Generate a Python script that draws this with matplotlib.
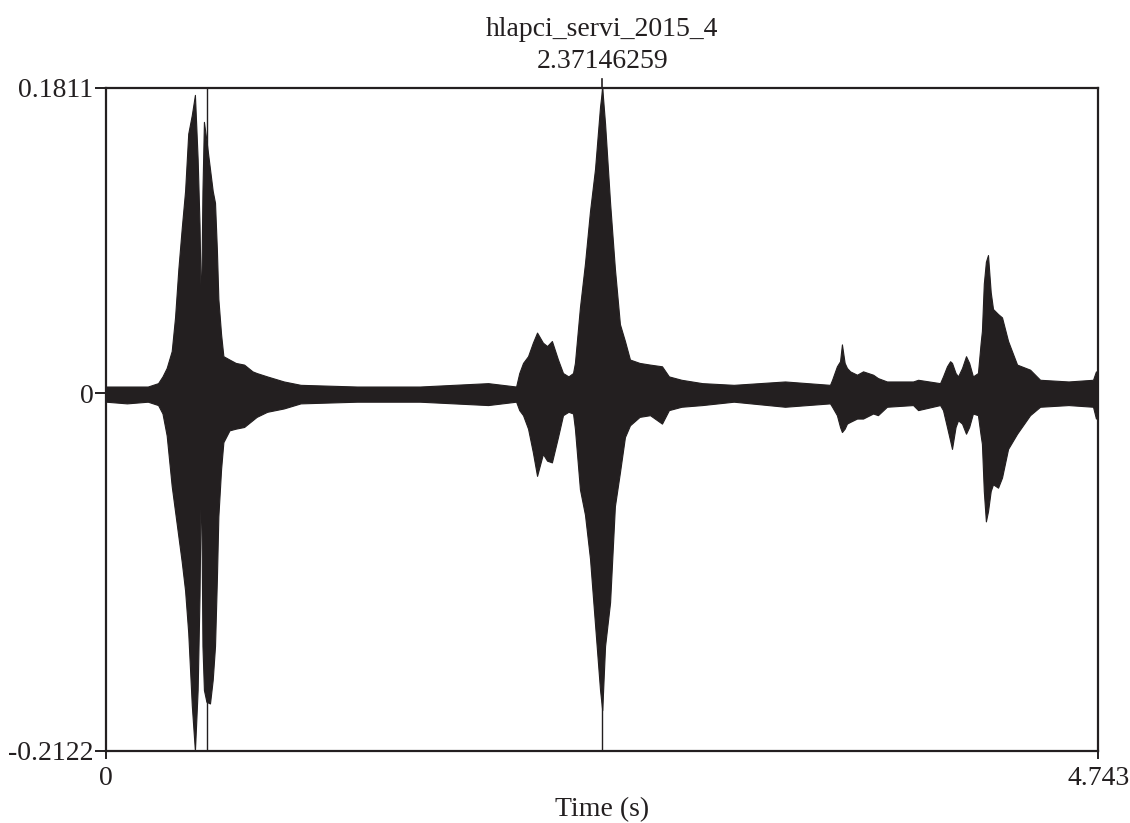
import matplotlib
matplotlib.use("Agg")
import matplotlib.pyplot as plt
import matplotlib.transforms as mtransforms

plt.rcParams['font.family'] = ['Liberation Serif', 'DejaVu Serif']
plt.rcParams['axes.unicode_minus'] = False

sound_name = "hlapci_servi_2015_4"
duration = 4.743
amp_min = -0.2122
amp_max = 0.1811
cursor_time = 2.37146259
mark_time = 0.481

# envelope of the waveform (time s, upper, lower)
env_time = [0.0, 0.10, 0.20, 0.249, 0.27, 0.29, 0.314, 0.33, 0.346, 0.362,
            0.378, 0.393, 0.410, 0.425, 0.438, 0.447, 0.454, 0.461, 0.468, 0.480,
            0.497, 0.510, 0.521, 0.530, 0.537, 0.550, 0.561, 0.59, 0.62, 0.66,
            0.70, 0.72, 0.77, 0.85, 0.93, 1.20, 1.50, 1.826, 1.96,
            1.975, 1.993, 2.017, 2.040, 2.060, 2.088, 2.108, 2.131, 2.160, 2.184,
            2.21, 2.232, 2.241, 2.265, 2.289, 2.313, 2.337, 2.361, 2.3715, 2.385,
            2.409, 2.432, 2.456, 2.480, 2.504, 2.55, 2.60, 2.657, 2.69, 2.75,
            2.85, 3.00, 3.245, 3.46,
            3.47, 3.493, 3.508, 3.517, 3.530, 3.541, 3.556, 3.589, 3.618, 3.666,
            3.689, 3.732, 3.857, 3.881, 3.986, 4.000, 4.019, 4.034, 4.043, 4.060,
            4.072, 4.091, 4.110, 4.125, 4.143, 4.167, 4.180, 4.186, 4.195, 4.205,
            4.215, 4.228, 4.239, 4.263, 4.282, 4.311, 4.354, 4.416, 4.464, 4.60,
            4.717, 4.731, 4.743]
env_upper = [0.004, 0.004, 0.004, 0.006, 0.010, 0.015, 0.025, 0.045, 0.074, 0.098,
             0.120, 0.154, 0.165, 0.177, 0.139, 0.100, 0.046, 0.120, 0.161, 0.150,
             0.133, 0.120, 0.113, 0.085, 0.056, 0.035, 0.022, 0.020, 0.018, 0.017,
             0.013, 0.012, 0.010, 0.007, 0.005, 0.004, 0.004, 0.006, 0.004,
             0.012, 0.018, 0.022, 0.030, 0.036, 0.030, 0.028, 0.031, 0.020, 0.012,
             0.010, 0.012, 0.018, 0.051, 0.077, 0.108, 0.133, 0.170, 0.1811, 0.160,
             0.113, 0.074, 0.041, 0.031, 0.020, 0.018, 0.017, 0.016, 0.010, 0.008,
             0.006, 0.005, 0.007, 0.005,
             0.008, 0.016, 0.019, 0.029, 0.018, 0.015, 0.013, 0.011, 0.013, 0.011,
             0.009, 0.007, 0.007, 0.008, 0.006, 0.010, 0.016, 0.019, 0.018, 0.012,
             0.010, 0.015, 0.022, 0.018, 0.010, 0.012, 0.030, 0.037, 0.065, 0.078,
             0.082, 0.060, 0.050, 0.047, 0.045, 0.031, 0.017, 0.014, 0.008, 0.007,
             0.008, 0.013, 0.010]
env_lower = [-0.005, -0.006, -0.005, -0.007, -0.012, -0.025, -0.055, -0.070, -0.085, -0.100,
             -0.117, -0.142, -0.185, -0.2122, -0.176, -0.120, -0.042, -0.150, -0.176, -0.183,
             -0.184, -0.170, -0.150, -0.110, -0.073, -0.045, -0.029, -0.022, -0.021, -0.020,
             -0.016, -0.014, -0.011, -0.009, -0.006, -0.005, -0.005, -0.007, -0.005,
             -0.010, -0.013, -0.021, -0.035, -0.049, -0.036, -0.040, -0.041, -0.026, -0.013,
             -0.011, -0.012, -0.021, -0.057, -0.072, -0.098, -0.137, -0.176, -0.188, -0.150,
             -0.124, -0.067, -0.047, -0.026, -0.019, -0.014, -0.013, -0.018, -0.010, -0.008,
             -0.007, -0.005, -0.008, -0.006,
             -0.008, -0.013, -0.020, -0.023, -0.021, -0.018, -0.017, -0.015, -0.015, -0.012,
             -0.013, -0.008, -0.007, -0.010, -0.007, -0.010, -0.020, -0.028, -0.033, -0.020,
             -0.016, -0.018, -0.024, -0.020, -0.012, -0.013, -0.025, -0.030, -0.058, -0.076,
             -0.070, -0.058, -0.054, -0.056, -0.050, -0.033, -0.024, -0.013, -0.008, -0.007,
             -0.008, -0.015, -0.010]

y_ticks = [amp_min, 0, amp_max]
y_tick_labels = ["-0.2122", "0", "0.1811"]
x_ticks = [0, duration]
x_tick_labels = ["0", "4.743"]

ink = '#231f20'

fig = plt.figure(figsize=(11.3, 8.23), dpi=100)
ax = fig.add_axes([0.0938, 0.0875, 0.8783, 0.8056])

ax.fill_between(env_time, env_lower, env_upper, color=ink, linewidth=0.8)

# cursor lines
ax.axvline(mark_time, color=ink, linewidth=1.0)
ax.axvline(cursor_time, color=ink, linewidth=1.0)
trans = mtransforms.blended_transform_factory(ax.transData, ax.transAxes)
ax.plot([cursor_time, cursor_time], [1.0, 1.013], color=ink, linewidth=1.2,
        transform=trans, clip_on=False)

ax.set_xlim(0, duration)
ax.set_ylim(amp_min, amp_max)

ax.set_yticks(y_ticks)
ax.set_yticklabels(y_tick_labels)
ax.set_xticks(x_ticks)
ax.set_xticklabels(x_tick_labels)
ax.tick_params(axis='y', direction='out', length=8, width=1.4, pad=1,
               labelsize=20, colors=ink)
ax.tick_params(axis='x', direction='out', length=6, width=1.4, pad=5,
               labelsize=20, colors=ink)
for sp in ax.spines.values():
    sp.set_linewidth(1.6)
    sp.set_color(ink)

ax.set_xlabel("Time (s)", fontsize=20, color=ink, labelpad=4)

ax.text(cursor_time, 1.088, sound_name, transform=trans, ha='center', va='center',
        fontsize=20, color=ink)
ax.text(cursor_time, 1.040, "%.8f" % cursor_time, transform=trans, ha='center',
        va='center', fontsize=20, color=ink)

fig.savefig("out.png", dpi=100)
